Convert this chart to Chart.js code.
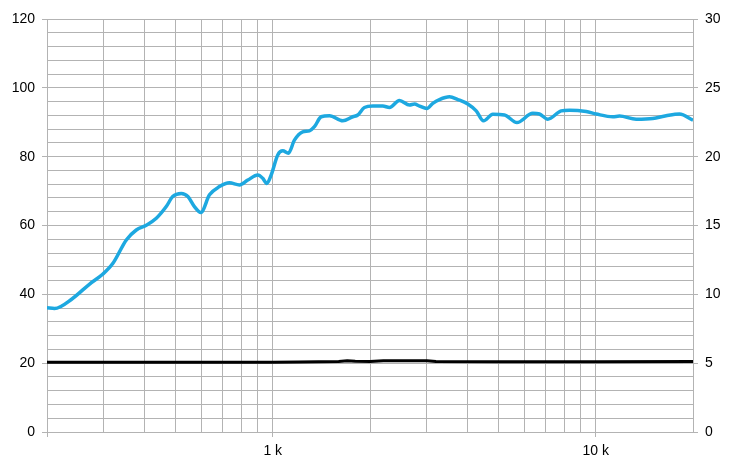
<!DOCTYPE html>
<html>
<head>
<meta charset="utf-8">
<script src="https://cdn.jsdelivr.net/npm/chart.js@4"></script>
<style>
  body { margin: 0; background: #fff; }
</style>
</head>
<body>
<canvas id="chart" width="735" height="464"></canvas>
<script>
// Frequenzgang (links) und Klirr/Impedanz (rechts)
const freqBlue = [200, 211, 240, 271, 298, 320, 352, 378, 406, 436, 468, 490, 521, 546, 572, 599, 637,
    684, 734, 789, 837, 899, 931, 958, 989, 1036, 1074, 1118, 1167, 1238, 1299, 1346, 1412, 1498,
    1647, 1769, 1833, 1922, 2040, 2191, 2298, 2467, 2650, 2747, 2847, 3000, 3129, 3282, 3525, 3740,
    4016, 4264, 4492, 4799, 5216, 5700, 6383, 6694, 7101, 7815, 8291, 9339, 10030, 11290, 11840,
    13340, 15010, 16520, 18160, 20000];
const levelBlue = [36.1, 35.9, 38.8, 43.0, 45.9, 49.0, 55.8, 58.7, 60.1, 62.1, 65.5, 68.4, 69.3, 68.4, 65.5, 63.8, 68.9,
    71.3, 72.4, 71.8, 73.2, 74.7, 73.7, 72.2, 74.7, 80.5, 81.7, 81.0, 84.8, 87.2, 87.5, 88.7, 91.6, 91.9,
    90.4, 91.6, 92.1, 94.3, 94.7, 94.7, 94.3, 96.3, 95.0, 95.3, 94.7, 94.0, 95.5, 96.6, 97.4, 96.6,
    95.3, 93.3, 90.4, 92.3, 92.1, 89.9, 92.6, 92.4, 90.9, 93.3, 93.5, 93.1, 92.4, 91.6, 91.8,
    90.9, 91.1, 91.9, 92.4, 90.6];

const freqBlack = [200, 1000, 1200, 1600, 1700, 1800, 2000, 2200, 3000, 3200, 5000, 10000, 20000];
const levelBlack = [5.06, 5.06, 5.08, 5.12, 5.17, 5.14, 5.12, 5.18, 5.18, 5.12, 5.1, 5.1, 5.12];

const xTicks = [200, 300, 400, 500, 600, 700, 800, 900, 1000, 2000, 3000, 4000, 5000, 6000, 7000, 8000, 9000, 10000, 20000];
const xLabels = { 1000: '1 k', 10000: '10 k' };

const gridGrey = '#b3b3b3';
const font = { family: 'Liberation Sans, Arial, sans-serif', size: 14 };

function pairs(xs, ys) {
    return xs.map((x, i) => ({ x: x, y: ys[i] }));
}

new Chart(document.getElementById('chart'), {
    type: 'line',
    data: {
        datasets: [{
            data: pairs(freqBlack, levelBlack),
            yAxisID: 'y2',
            borderColor: '#000000',
            borderWidth: 3,
            pointRadius: 0,
            tension: 0
        }, {
            data: pairs(freqBlue, levelBlue),
            yAxisID: 'y',
            borderColor: '#1da8e0',
            borderWidth: 3.5,
            pointRadius: 0,
            tension: 0.4,
            cubicInterpolationMode: 'monotone'
        }]
    },
    options: {
        responsive: false,
        animation: false,
        layout: { padding: { top: 19, left: 0, right: 0, bottom: 0 } },
        plugins: { legend: { display: false }, tooltip: { enabled: false } },
        scales: {
            x: {
                type: 'logarithmic',
                min: 200,
                max: 20000,
                afterBuildTicks: axis => { axis.ticks = xTicks.map(v => ({ value: v })); },
                afterFit: axis => { axis.height = 32; },
                border: { color: gridGrey },
                grid: {
                    color: gridGrey,
                    tickLength: 5,
                    tickColor: c => (c.tick && (c.tick.value === 200 || xLabels[c.tick.value])) ? gridGrey : 'rgba(0,0,0,0)'
                },
                ticks: {
                    autoSkip: false,
                    maxRotation: 0,
                    padding: 6,
                    color: '#000',
                    font: font,
                    callback: v => xLabels[v] || ''
                }
            },
            y: {
                position: 'left',
                min: 0,
                max: 120,
                afterFit: axis => { axis.width = 47; },
                border: { color: gridGrey },
                grid: {
                    color: gridGrey,
                    tickLength: 5,
                    tickColor: c => (c.tick && c.tick.value % 20 === 0) ? gridGrey : 'rgba(0,0,0,0)'
                },
                ticks: {
                    stepSize: 4,
                    autoSkip: false,
                    padding: 7,
                    color: '#000',
                    font: font,
                    callback: v => v % 20 === 0 ? v : ''
                }
            },
            y2: {
                position: 'right',
                min: 0,
                max: 30,
                afterFit: axis => { axis.width = 42; },
                border: { color: gridGrey },
                grid: {
                    drawOnChartArea: false,
                    tickLength: 5,
                    tickColor: c => (c.tick && c.tick.value % 5 === 0) ? gridGrey : 'rgba(0,0,0,0)'
                },
                ticks: {
                    stepSize: 1,
                    autoSkip: false,
                    padding: 7,
                    color: '#000',
                    font: font,
                    callback: v => v % 5 === 0 ? v : ''
                }
            }
        }
    }
});
</script>
</body>
</html>
